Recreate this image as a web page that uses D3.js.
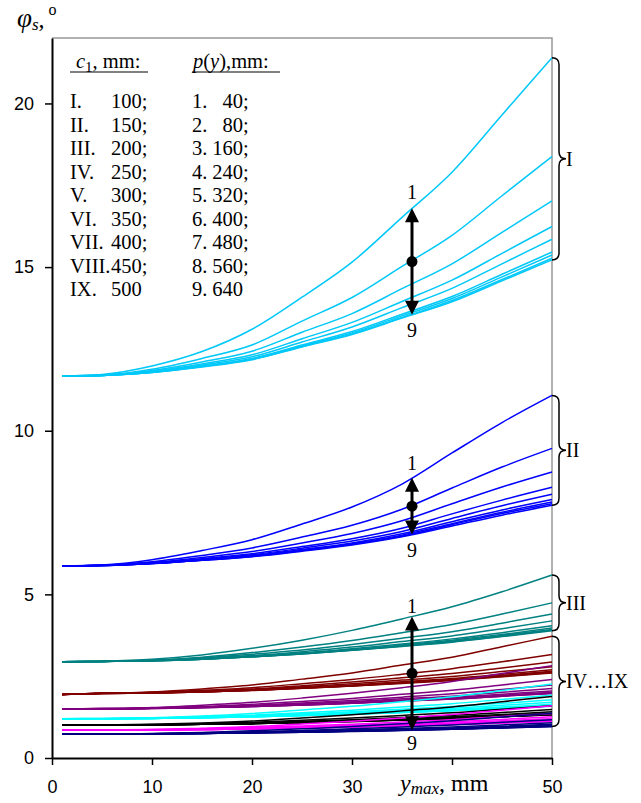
<!DOCTYPE html>
<html>
<head>
<meta charset="utf-8">
<script src="https://cdn.jsdelivr.net/npm/d3@7"></script>
<style>
  body { margin: 0; background: #fff; }
  .serif { font-family: "Liberation Serif", "Times New Roman", serif; }
  .axis text { font-family: "Liberation Sans", Arial, sans-serif; font-size: 18px; fill: #000; }
</style>
</head>
<body>
<script>
var width = 641,
    height = 803;

// x positions of the computed points, mm
var xValues = [1, 5, 10, 15, 20, 25, 30, 35, 40, 45, 50];

// phi_s, degrees -- one row per p(y) = 40 ... 640 mm
var groupI = [
  [11.67, 11.72, 11.98, 12.42, 13.10, 14.08, 15.15, 16.52, 17.90, 19.65, 21.40],
  [11.67, 11.70, 11.88, 12.21, 12.62, 13.35, 14.07, 15.02, 15.97, 17.18, 18.38],
  [11.67, 11.70, 11.84, 12.10, 12.43, 13.01, 13.58, 14.34, 15.10, 16.06, 17.02],
  [11.67, 11.69, 11.82, 12.04, 12.32, 12.81, 13.31, 13.95, 14.60, 15.42, 16.24],
  [11.67, 11.69, 11.80, 12.01, 12.26, 12.71, 13.17, 13.76, 14.35, 15.10, 15.85],
  [11.67, 11.69, 11.79, 11.97, 12.21, 12.62, 13.03, 13.56, 14.10, 14.78, 15.46],
  [11.67, 11.69, 11.79, 11.97, 12.19, 12.59, 12.99, 13.51, 14.04, 14.70, 15.37],
  [11.67, 11.69, 11.78, 11.96, 12.18, 12.57, 12.96, 13.46, 13.98, 14.62, 15.27],
  [11.67, 11.69, 11.78, 11.95, 12.17, 12.56, 12.94, 13.44, 13.94, 14.58, 15.22]
];
var groupII = [
  [5.87, 5.90, 6.06, 6.34, 6.67, 7.15, 7.67, 8.37, 9.32, 10.25, 11.08],
  [5.87, 5.89, 6.00, 6.19, 6.42, 6.75, 7.11, 7.60, 8.25, 8.89, 9.46],
  [5.87, 5.89, 5.97, 6.13, 6.31, 6.57, 6.86, 7.25, 7.77, 8.28, 8.74],
  [5.87, 5.88, 5.96, 6.09, 6.24, 6.46, 6.70, 7.02, 7.46, 7.88, 8.27],
  [5.87, 5.88, 5.95, 6.07, 6.21, 6.41, 6.63, 6.92, 7.32, 7.71, 8.06],
  [5.87, 5.88, 5.94, 6.05, 6.18, 6.37, 6.57, 6.85, 7.22, 7.58, 7.90],
  [5.87, 5.88, 5.94, 6.05, 6.17, 6.35, 6.55, 6.81, 7.16, 7.51, 7.82],
  [5.87, 5.88, 5.94, 6.04, 6.16, 6.34, 6.53, 6.78, 7.13, 7.47, 7.77],
  [5.87, 5.88, 5.94, 6.04, 6.15, 6.32, 6.51, 6.76, 7.09, 7.42, 7.72]
];
var groupIII = [
  [2.94, 2.96, 3.02, 3.15, 3.35, 3.60, 3.90, 4.25, 4.62, 5.08, 5.59],
  [2.94, 2.95, 2.99, 3.08, 3.22, 3.39, 3.59, 3.83, 4.08, 4.40, 4.74],
  [2.94, 2.95, 2.98, 3.06, 3.17, 3.30, 3.47, 3.66, 3.86, 4.12, 4.40],
  [2.94, 2.95, 2.98, 3.04, 3.13, 3.25, 3.39, 3.56, 3.73, 3.95, 4.19],
  [2.94, 2.95, 2.97, 3.03, 3.11, 3.21, 3.34, 3.48, 3.64, 3.83, 4.04],
  [2.94, 2.95, 2.97, 3.02, 3.10, 3.20, 3.31, 3.45, 3.60, 3.77, 3.97],
  [2.94, 2.95, 2.97, 3.02, 3.09, 3.19, 3.30, 3.43, 3.57, 3.74, 3.93],
  [2.94, 2.95, 2.97, 3.02, 3.09, 3.18, 3.29, 3.42, 3.55, 3.72, 3.91],
  [2.94, 2.95, 2.97, 3.02, 3.09, 3.18, 3.29, 3.41, 3.54, 3.71, 3.89]
];
var groupIV = [
  [1.94, 1.98, 2.02, 2.11, 2.23, 2.41, 2.60, 2.84, 3.08, 3.40, 3.72],
  [1.94, 1.98, 2.01, 2.07, 2.15, 2.27, 2.40, 2.56, 2.73, 2.94, 3.16],
  [1.94, 1.98, 2.00, 2.05, 2.11, 2.21, 2.32, 2.45, 2.58, 2.75, 2.93],
  [1.94, 1.98, 2.00, 2.04, 2.09, 2.18, 2.27, 2.38, 2.49, 2.64, 2.79],
  [1.94, 1.98, 1.99, 2.03, 2.08, 2.15, 2.23, 2.33, 2.43, 2.56, 2.70],
  [1.94, 1.97, 1.99, 2.02, 2.07, 2.14, 2.21, 2.31, 2.40, 2.52, 2.65],
  [1.94, 1.97, 1.99, 2.02, 2.07, 2.14, 2.21, 2.30, 2.39, 2.51, 2.63],
  [1.94, 1.97, 1.99, 2.02, 2.07, 2.13, 2.20, 2.29, 2.38, 2.49, 2.61],
  [1.94, 1.97, 1.99, 2.02, 2.06, 2.13, 2.20, 2.28, 2.37, 2.48, 2.60]
];
var groupV = [
  [1.50, 1.51, 1.54, 1.61, 1.70, 1.83, 1.98, 2.15, 2.34, 2.58, 2.82],
  [1.50, 1.51, 1.53, 1.57, 1.64, 1.73, 1.82, 1.95, 2.07, 2.23, 2.40],
  [1.50, 1.51, 1.52, 1.56, 1.61, 1.68, 1.76, 1.86, 1.96, 2.09, 2.23],
  [1.50, 1.50, 1.52, 1.55, 1.59, 1.66, 1.72, 1.81, 1.89, 2.01, 2.12],
  [1.50, 1.50, 1.52, 1.54, 1.58, 1.64, 1.70, 1.77, 1.85, 1.95, 2.05],
  [1.50, 1.50, 1.52, 1.54, 1.58, 1.63, 1.68, 1.75, 1.82, 1.92, 2.01],
  [1.50, 1.50, 1.52, 1.54, 1.57, 1.62, 1.68, 1.75, 1.81, 1.90, 1.99],
  [1.50, 1.50, 1.51, 1.54, 1.57, 1.62, 1.67, 1.74, 1.80, 1.89, 1.98],
  [1.50, 1.50, 1.51, 1.54, 1.57, 1.62, 1.67, 1.74, 1.80, 1.89, 1.97]
];
var groupVI = [
  [1.20, 1.21, 1.23, 1.28, 1.36, 1.47, 1.58, 1.72, 1.87, 2.06, 2.26],
  [1.20, 1.21, 1.22, 1.26, 1.31, 1.38, 1.46, 1.56, 1.66, 1.79, 1.92],
  [1.20, 1.20, 1.22, 1.25, 1.29, 1.35, 1.41, 1.49, 1.57, 1.67, 1.78],
  [1.20, 1.20, 1.22, 1.24, 1.28, 1.33, 1.38, 1.45, 1.52, 1.61, 1.70],
  [1.20, 1.20, 1.21, 1.24, 1.27, 1.31, 1.36, 1.42, 1.48, 1.56, 1.64],
  [1.20, 1.20, 1.21, 1.23, 1.26, 1.30, 1.35, 1.40, 1.46, 1.53, 1.61],
  [1.20, 1.20, 1.21, 1.23, 1.26, 1.30, 1.34, 1.40, 1.45, 1.53, 1.60],
  [1.20, 1.20, 1.21, 1.23, 1.26, 1.30, 1.34, 1.39, 1.45, 1.52, 1.59],
  [1.20, 1.20, 1.21, 1.23, 1.26, 1.30, 1.34, 1.39, 1.44, 1.51, 1.58]
];
var groupVII = [
  [1.00, 1.01, 1.03, 1.07, 1.13, 1.22, 1.32, 1.44, 1.56, 1.72, 1.88],
  [1.00, 1.00, 1.02, 1.05, 1.09, 1.15, 1.22, 1.30, 1.38, 1.49, 1.60],
  [1.00, 1.00, 1.01, 1.04, 1.07, 1.12, 1.17, 1.24, 1.30, 1.39, 1.48],
  [1.00, 1.00, 1.01, 1.03, 1.06, 1.10, 1.15, 1.20, 1.26, 1.33, 1.41],
  [1.00, 1.00, 1.01, 1.03, 1.05, 1.09, 1.13, 1.18, 1.23, 1.30, 1.37],
  [1.00, 1.00, 1.01, 1.03, 1.05, 1.09, 1.12, 1.17, 1.22, 1.28, 1.34],
  [1.00, 1.00, 1.01, 1.03, 1.05, 1.08, 1.12, 1.16, 1.21, 1.27, 1.33],
  [1.00, 1.00, 1.01, 1.03, 1.05, 1.08, 1.12, 1.16, 1.20, 1.26, 1.32],
  [1.00, 1.00, 1.01, 1.03, 1.05, 1.08, 1.11, 1.16, 1.20, 1.26, 1.32]
];
var groupVIII = [
  [0.85, 0.86, 0.87, 0.91, 0.96, 1.04, 1.12, 1.22, 1.33, 1.46, 1.60],
  [0.85, 0.85, 0.87, 0.89, 0.93, 0.98, 1.03, 1.10, 1.17, 1.27, 1.36],
  [0.85, 0.85, 0.86, 0.88, 0.91, 0.95, 1.00, 1.05, 1.11, 1.18, 1.26],
  [0.85, 0.85, 0.86, 0.88, 0.90, 0.94, 0.98, 1.02, 1.07, 1.14, 1.20],
  [0.85, 0.85, 0.86, 0.87, 0.90, 0.93, 0.96, 1.00, 1.05, 1.10, 1.16],
  [0.85, 0.85, 0.86, 0.87, 0.89, 0.92, 0.95, 0.99, 1.03, 1.09, 1.14],
  [0.85, 0.85, 0.86, 0.87, 0.89, 0.92, 0.95, 0.99, 1.03, 1.08, 1.13],
  [0.85, 0.85, 0.86, 0.87, 0.89, 0.92, 0.95, 0.99, 1.02, 1.07, 1.12],
  [0.85, 0.85, 0.86, 0.87, 0.89, 0.92, 0.95, 0.98, 1.02, 1.07, 1.12]
];
var groupIX = [
  [0.73, 0.73, 0.75, 0.78, 0.83, 0.89, 0.96, 1.05, 1.14, 1.25, 1.37],
  [0.73, 0.73, 0.74, 0.77, 0.80, 0.84, 0.89, 0.95, 1.01, 1.09, 1.17],
  [0.73, 0.73, 0.74, 0.76, 0.78, 0.82, 0.86, 0.90, 0.95, 1.01, 1.08],
  [0.73, 0.73, 0.74, 0.75, 0.78, 0.81, 0.84, 0.88, 0.92, 0.97, 1.03],
  [0.73, 0.73, 0.74, 0.75, 0.77, 0.80, 0.83, 0.86, 0.90, 0.95, 1.00],
  [0.73, 0.73, 0.74, 0.75, 0.77, 0.79, 0.82, 0.85, 0.89, 0.93, 0.98],
  [0.73, 0.73, 0.74, 0.75, 0.77, 0.79, 0.82, 0.85, 0.88, 0.93, 0.97],
  [0.73, 0.73, 0.74, 0.75, 0.77, 0.79, 0.82, 0.85, 0.88, 0.92, 0.96],
  [0.73, 0.73, 0.74, 0.75, 0.77, 0.79, 0.81, 0.84, 0.88, 0.92, 0.96]
];

var groups = [groupI, groupII, groupIII, groupIV, groupV, groupVI, groupVII, groupVIII, groupIX];
var groupColours = ['#00c8f8', '#0000ff', '#008080', '#800000', '#800080', '#00ffff', '#000000', '#ff00ff', '#000080'];

// legend text
var c1Labels = ['I.', 'II.', 'III.', 'IV.', 'V.', 'VI.', 'VII.', 'VIII.', 'IX.'];
var c1Values = ['100', '150', '200', '250', '300', '350', '400', '450', '500'];
var pyLabels = ['1.', '2.', '3.', '4.', '5.', '6.', '7.', '8.', '9.'];
var pyValues = ['40', '80', '160', '240', '320', '400', '480', '560', '640'];

var xTicks = [0, 10, 20, 30, 40, 50];
var xTickLabels = ['0', '10', '20', '30', '', '50'];   // 40 is covered by the axis title
var yTicks = [0, 5, 10, 15, 20];
var arrowX = 36;

var x = d3.scaleLinear().domain([0, 50]).range([52, 552]);
var y = d3.scaleLinear().domain([0, 22]).range([758, 38]);

var svg = d3.select('body').append('svg')
    .attr('xmlns', 'http://www.w3.org/2000/svg')
    .attr('width', width)
    .attr('height', height);

// grey frame top/right
svg.append('path')
    .attr('d', 'M' + x(0) + ',' + y(22) + 'H' + x(50) + 'V' + y(0))
    .attr('fill', 'none').attr('stroke', '#999').attr('stroke-width', 1.5);

// curves
var line = d3.line()
    .x(function(d, i) { return x(xValues[i]); })
    .y(function(d) { return y(d); })
    .curve(d3.curveMonotoneX);

groups.forEach(function(g, gi) {
  svg.append('g')
    .selectAll('path').data(g).enter().append('path')
      .attr('d', line)
      .attr('fill', 'none')
      .attr('stroke', groupColours[gi])
      .attr('stroke-width', 1.5);
});

// axes
var xAxis = svg.append('g').attr('class', 'axis')
    .attr('transform', 'translate(0,' + y(0) + ')')
    .call(d3.axisBottom(x).tickValues(xTicks)
      .tickFormat(function(d, i) { return xTickLabels[i]; })
      .tickSize(7).tickPadding(15).tickSizeOuter(0));
var yAxis = svg.append('g').attr('class', 'axis')
    .attr('transform', 'translate(' + x(0) + ',0)')
    .call(d3.axisLeft(y).tickValues(yTicks).tickSize(7).tickPadding(11).tickSizeOuter(0));
[xAxis, yAxis].forEach(function(a) {
  a.select('.domain').attr('stroke', '#000').attr('stroke-width', 2);
  a.selectAll('.tick line').attr('stroke', '#000').attr('stroke-width', 1.5);
});

// value of a curve at some x (linear between points)
function valueAt(arr, xv) {
  var i = d3.bisectRight(xValues, xv) - 1;
  var t = (xv - xValues[i]) / (xValues[i + 1] - xValues[i]);
  return arr[i] + t * (arr[i + 1] - arr[i]);
}

// arrows 1 -> 9
var arrows = [
  { top: groupI[0], bottom: groupI[8], dTop: -9, dBot: 22 },
  { top: groupII[0], bottom: groupII[8], dTop: -8, dBot: 22 },
  { top: groupIII[0], bottom: groupIX[8], dTop: -3, dBot: 20 }
];
arrows.forEach(function(a) {
  var ax = x(arrowX),
      y1 = y(valueAt(a.top, arrowX)),
      y2 = y(valueAt(a.bottom, arrowX)),
      g = svg.append('g');
  g.append('line').attr('x1', ax).attr('x2', ax).attr('y1', y1 + 8).attr('y2', y2 - 8)
    .attr('stroke', '#000').attr('stroke-width', 3);
  g.append('path').attr('d', 'M' + ax + ',' + y1 + 'l7,14h-14z').attr('fill', '#000');
  g.append('path').attr('d', 'M' + ax + ',' + y2 + 'l7,-14h-14z').attr('fill', '#000');
  g.append('circle').attr('cx', ax).attr('cy', (y1 + y2) / 2).attr('r', 5.5).attr('fill', '#000');
  g.append('text').attr('class', 'serif').attr('x', ax).attr('y', y1 + a.dTop)
    .attr('text-anchor', 'middle').attr('font-size', 20).text('1');
  g.append('text').attr('class', 'serif').attr('x', ax).attr('y', y2 + a.dBot)
    .attr('text-anchor', 'middle').attr('font-size', 20).text('9');
});

// curly brackets at the right edge
function brace(x0, y1, y2, w) {
  var ym = (y1 + y2) / 2;
  return 'M' + x0 + ',' + y1 +
    'Q' + (x0 + w) + ',' + y1 + ' ' + (x0 + w) + ',' + (y1 + w) +
    'L' + (x0 + w) + ',' + (ym - w) +
    'Q' + (x0 + w) + ',' + ym + ' ' + (x0 + 2 * w) + ',' + ym +
    'Q' + (x0 + w) + ',' + ym + ' ' + (x0 + w) + ',' + (ym + w) +
    'L' + (x0 + w) + ',' + (y2 - w) +
    'Q' + (x0 + w) + ',' + y2 + ' ' + x0 + ',' + y2;
}
var braces = [
  { top: groupI[0], bottom: groupI[8], label: 'I' },
  { top: groupII[0], bottom: groupII[8], label: 'II' },
  { top: groupIII[0], bottom: groupIII[8], label: 'III' },
  { top: groupIV[0], bottom: groupIX[8], label: 'IV\u2026IX' }
];
braces.forEach(function(b) {
  var y1 = y(b.top[b.top.length - 1]),
      y2 = y(b.bottom[b.bottom.length - 1]);
  svg.append('path').attr('d', brace(x(50), y1, y2, 7))
    .attr('fill', 'none').attr('stroke', '#000').attr('stroke-width', 1.5);
  svg.append('text').attr('class', 'serif')
    .attr('x', x(50) + 14).attr('y', (y1 + y2) / 2 + 7)
    .attr('font-size', 20).text(b.label);
});

// legend
var leg = svg.append('g').attr('class', 'serif').attr('font-size', 20.5);
var h1 = leg.append('text').attr('x', 76).attr('y', 68);
h1.append('tspan').attr('font-style', 'italic').text('c');
h1.append('tspan').attr('font-size', 15).attr('dy', 4).text('1');
h1.append('tspan').attr('dy', -4).text(', mm:');
leg.append('line').attr('x1', 70).attr('x2', 148).attr('y1', 72).attr('y2', 72)
  .attr('stroke', '#000').attr('stroke-width', 1);
var h2 = leg.append('text').attr('x', 193).attr('y', 68);
h2.append('tspan').attr('font-style', 'italic').text('p');
h2.append('tspan').text('(');
h2.append('tspan').attr('font-style', 'italic').text('y');
h2.append('tspan').text('),mm:');
leg.append('line').attr('x1', 192).attr('x2', 280).attr('y1', 72).attr('y2', 72)
  .attr('stroke', '#000').attr('stroke-width', 1);

c1Labels.forEach(function(l, i) {
  var yy = 108 + i * 23.5,
      last = i === c1Labels.length - 1;
  leg.append('text').attr('x', 70).attr('y', yy).text(l);
  leg.append('text').attr('x', 111).attr('y', yy).text(c1Values[i] + (last ? '' : ';'));
  leg.append('text').attr('x', 192).attr('y', yy).text(pyLabels[i]);
  leg.append('text').attr('x', 243).attr('y', yy).attr('text-anchor', 'end').text(pyValues[i]);
  if (!last) leg.append('text').attr('x', 243).attr('y', yy).text(';');
});

// axis titles
var yt = svg.append('text').attr('class', 'serif').attr('x', 17).attr('y', 27);
yt.append('tspan').attr('font-style', 'italic').attr('font-size', 27).text('\u03c6');
yt.append('tspan').attr('font-style', 'italic').attr('font-size', 17).attr('dy', 3).text('s');
yt.append('tspan').attr('font-size', 24).attr('dy', -3).text(',');
yt.append('tspan').attr('font-size', 16).attr('dx', 4).attr('dy', -12).text('o');

var xt = svg.append('text').attr('class', 'serif').attr('x', 400).attr('y', 791);
xt.append('tspan').attr('font-style', 'italic').attr('font-size', 24).text('y');
xt.append('tspan').attr('font-style', 'italic').attr('font-size', 17).attr('dy', 3).text('max');
xt.append('tspan').attr('font-size', 24).attr('dy', -3).text(', mm');
</script>
</body>
</html>
